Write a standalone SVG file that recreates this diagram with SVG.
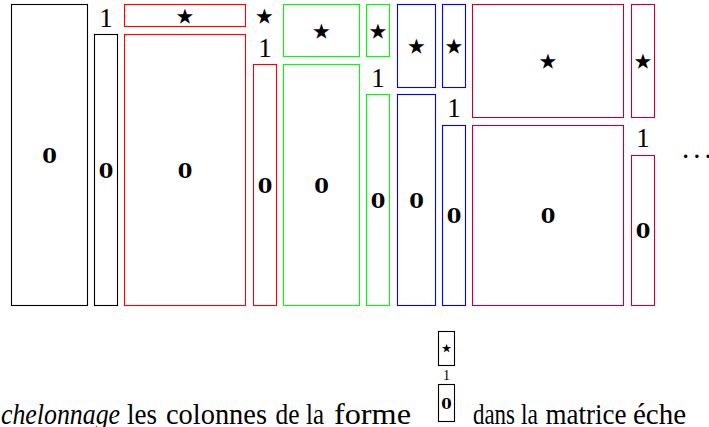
<svg xmlns="http://www.w3.org/2000/svg" width="709" height="427" viewBox="0 0 709 427">
<style>
rect{fill:none;stroke-width:1.1}
.k{stroke:#000}.r{stroke:#ff0000}.g{stroke:#00ff00}.b{stroke:#0000ff}.p{stroke:#bf0040}
.z{font-family:"DejaVu Serif",serif;font-weight:bold;font-size:21px;text-anchor:middle;fill:#000}
.one{font-family:"Liberation Serif",serif;font-size:27px;text-anchor:middle;fill:#000}
.st{font-family:"DejaVu Sans",sans-serif;font-size:42px;text-anchor:middle;fill:#000}
.tx{font-family:"Liberation Serif",serif;font-size:29px;fill:#000}
</style>
<rect width="709" height="427" fill="#fff" stroke="none"/>
<g id="col-black-big"><rect class="k" x="11.5" y="4.5" width="76" height="301"/><text class="z" x="49.5" y="163">0</text></g>
<g id="col-black-pivot"><text class="one" x="106" y="26.5">1</text><rect class="k" x="94.5" y="34.5" width="23" height="271"/><text class="z" x="106" y="178">0</text></g>
<g id="col-red-top"><rect class="r" x="124.5" y="4.5" width="121" height="22"/><text class="st" x="185" y="29.5">⋆</text></g>
<g id="col-red-big"><rect class="r" x="124.5" y="34.5" width="121" height="271"/><text class="z" x="185" y="178">0</text></g>
<g id="col-red-pivot"><text class="st" x="264.5" y="29.5">⋆</text><text class="one" x="265" y="57">1</text><rect class="r" x="253.5" y="64.5" width="23" height="241"/><text class="z" x="265" y="193">0</text></g>
<g id="col-green-top"><rect class="g" x="283.5" y="4.5" width="76" height="52"/><text class="st" x="321.5" y="44.5">⋆</text></g>
<g id="col-green-big"><rect class="g" x="283.5" y="64.5" width="76" height="241"/><text class="z" x="321.5" y="193">0</text></g>
<g id="col-green-pivot-top"><rect class="g" x="366.5" y="4.5" width="23" height="52"/><text class="st" x="378" y="44.5">⋆</text></g>
<g id="col-green-pivot"><text class="one" x="378" y="86.5">1</text><rect class="g" x="366.5" y="94.5" width="23" height="211"/><text class="z" x="378" y="208">0</text></g>
<g id="col-blue-top"><rect class="b" x="397.5" y="4.5" width="38" height="83"/><text class="st" x="416.5" y="60">⋆</text></g>
<g id="col-blue-big"><rect class="b" x="397.5" y="94.5" width="38" height="211"/><text class="z" x="416.5" y="208">0</text></g>
<g id="col-blue-pivot-top"><rect class="b" x="442.5" y="4.5" width="23" height="83"/><text class="st" x="454" y="60">⋆</text></g>
<g id="col-blue-pivot"><text class="one" x="454" y="116.5">1</text><rect class="b" x="442.5" y="125.5" width="23" height="180"/><text class="z" x="454" y="223">0</text></g>
<g id="col-purple-top"><rect class="p" x="472.5" y="4.5" width="151" height="113"/><text class="st" x="548" y="75">⋆</text></g>
<g id="col-purple-big"><rect class="p" x="472.5" y="125.5" width="151" height="180"/><text class="z" x="548" y="223">0</text></g>
<g id="col-purple-pivot-top"><rect class="p" x="631.5" y="4.5" width="23" height="113"/><text class="st" x="643" y="75">⋆</text></g>
<g id="col-purple-pivot"><text class="one" x="643" y="147">1</text><rect class="p" x="631.5" y="155.5" width="23" height="150"/><text class="z" x="643" y="238">0</text></g>
<g id="dots"><text class="tx" x="682" y="158" letter-spacing="4">...</text></g>
<g id="connectors"/>
<g id="inline-column">
<rect class="k" x="438.5" y="331.5" width="16" height="34"/>
<text font-family="DejaVu Sans,sans-serif" font-size="24" text-anchor="middle" fill="#000" x="446.5" y="356">⋆</text>
<text font-family="Liberation Serif,serif" font-size="14" text-anchor="middle" fill="#000" x="446.5" y="380">1</text>
<rect class="k" x="438.5" y="384.5" width="16" height="37"/>
<text font-family="DejaVu Serif,serif" font-weight="bold" font-size="15" text-anchor="middle" fill="#000" x="446.5" y="409">0</text>
</g>
<g id="caption">
<text class="tx" y="423.5"><tspan x="1" font-style="italic" textLength="119" lengthAdjust="spacingAndGlyphs">chelonnage</tspan><tspan x="127" textLength="30" lengthAdjust="spacingAndGlyphs">les</tspan><tspan x="166" textLength="101" lengthAdjust="spacingAndGlyphs">colonnes</tspan><tspan x="275.5" textLength="24" lengthAdjust="spacingAndGlyphs">de</tspan><tspan x="306" textLength="18" lengthAdjust="spacingAndGlyphs">la</tspan><tspan x="334" textLength="77" lengthAdjust="spacingAndGlyphs">forme</tspan><tspan x="473" textLength="42" lengthAdjust="spacingAndGlyphs">dans</tspan><tspan x="521" textLength="17" lengthAdjust="spacingAndGlyphs">la</tspan><tspan x="545.5" textLength="81" lengthAdjust="spacingAndGlyphs">matrice</tspan><tspan x="633">éche</tspan></text>
</g>
</svg>
